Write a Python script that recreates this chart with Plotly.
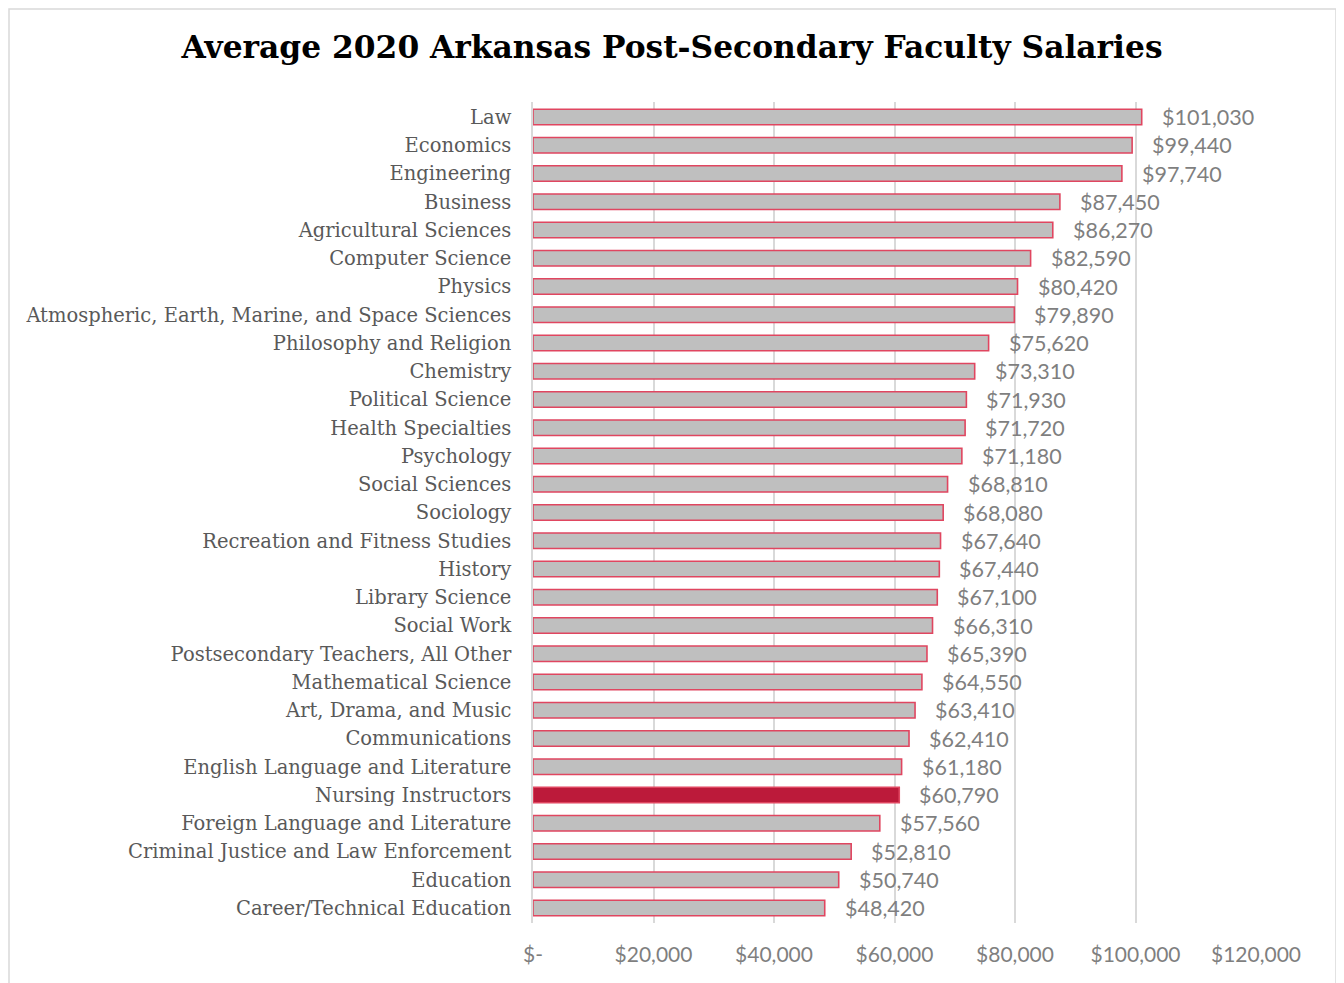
import plotly.graph_objects as go

categories = [
    "Law", "Economics", "Engineering", "Business", "Agricultural Sciences",
    "Computer Science", "Physics", "Atmospheric, Earth, Marine, and Space Sciences",
    "Philosophy and Religion", "Chemistry", "Political Science", "Health Specialties",
    "Psychology", "Social Sciences", "Sociology", "Recreation and Fitness Studies",
    "History", "Library Science", "Social Work", "Postsecondary Teachers, All Other",
    "Mathematical Science", "Art, Drama, and Music", "Communications",
    "English Language and Literature", "Nursing Instructors",
    "Foreign Language and Literature", "Criminal Justice and Law Enforcement",
    "Education", "Career/Technical Education",
]
salaries = [
    101030, 99440, 97740, 87450, 86270, 82590, 80420, 79890, 75620, 73310,
    71930, 71720, 71180, 68810, 68080, 67640, 67440, 67100, 66310, 65390,
    64550, 63410, 62410, 61180, 60790, 57560, 52810, 50740, 48420,
]
highlight = "Nursing Instructors"
tick_values = [0, 20000, 40000, 60000, 80000, 100000, 120000]
tick_labels = ["$-", "$20,000", "$40,000", "$60,000", "$80,000", "$100,000", "$120,000"]

fills = ["#BC1A3A" if c == highlight else "#BFBFBF" for c in categories]
value_text = ["${:,}".format(v) for v in salaries]

OFF = 8  # page body margin
W, H = 1344 - OFF, 983 - OFF
L, R, T, B = 533 - OFF, 1256 - OFF, 102 - OFF, 923 - OFF

fig = go.Figure()
fig.add_trace(go.Bar(
    x=salaries, y=categories, orientation="h",
    marker=dict(color=fills, line=dict(color="#E04660", width=1.6)),
    width=0.55,
    hoverinfo="x+y",
))

for c, v, t in zip(categories, salaries, value_text):
    fig.add_annotation(x=v, y=c, text=t, xanchor="left", yanchor="middle",
                       xshift=18, showarrow=False,
                       font=dict(family="Lato, Carlito, sans-serif", size=21.5, color="#7F7F7F"))

pw, ph = R - L, B - T
fig.add_shape(type="rect", xref="paper", yref="paper",
              x0=(1 - L) / pw, x1=(1336 - OFF - L) / pw,
              y0=(B - (990 - OFF)) / ph, y1=1 + (T - 1) / ph,
              line=dict(color="#D9D9D9", width=1.5), fillcolor="rgba(0,0,0,0)", layer="below")

fig.update_layout(
    width=W, height=H,
    margin=dict(l=L, r=W - R, t=T, b=H - B),
    paper_bgcolor="white", plot_bgcolor="white",
    showlegend=False,
    title=dict(text="<b>Average 2020 Arkansas Post-Secondary Faculty Salaries</b>",
               x=(672 - OFF) / W, xanchor="center", y=1 - (47 - OFF) / H, yanchor="middle",
               font=dict(family="DejaVu Serif, serif", size=31.3, color="black")),
    xaxis=dict(range=[0, 120000], tickvals=tick_values, ticktext=tick_labels,
               showgrid=True, gridcolor="#D9D9D9", gridwidth=1.5, zeroline=False,
               showline=False, ticks="", ticklabelstandoff=17,
               tickfont=dict(family="Lato, Carlito, sans-serif", size=21, color="#7F7F7F"),
               fixedrange=True),
    yaxis=dict(autorange="reversed", showgrid=False, showline=True, linecolor="#D9D9D9",
               linewidth=1.5, ticks="", ticklabelstandoff=16,
               tickfont=dict(family="DejaVu Serif, serif", size=19.5, color="#595959"),
               fixedrange=True),
)

fig.write_html("out.html")
